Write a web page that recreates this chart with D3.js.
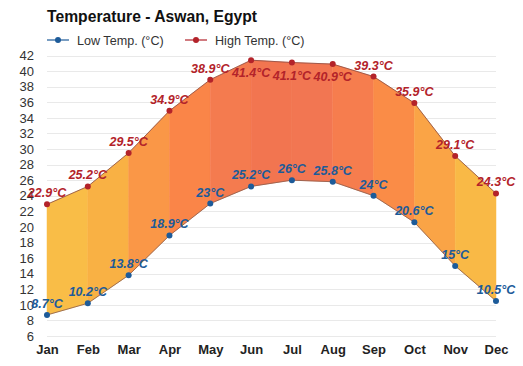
<!DOCTYPE html>
<html><head><meta charset="utf-8">
<script src="https://cdn.jsdelivr.net/npm/d3@7"></script>
<style>body{margin:0;background:#fff;}svg{display:block;font-family:"Liberation Sans",Arial,sans-serif;}</style>
</head><body><svg id="c" width="523" height="366"></svg>
<script>
const months = ["Jan","Feb","Mar","Apr","May","Jun","Jul","Aug","Sep","Oct","Nov","Dec"];
const lowTemps = [8.7,10.2,13.8,18.9,23,25.2,26,25.8,24,20.6,15,10.5];
const highTemps = [22.9,25.2,29.5,34.9,38.9,41.4,41.1,40.9,39.3,35.9,29.1,24.3];
const lowLabels = ["8.7°C","10.2°C","13.8°C","18.9°C","23°C","25.2°C","26°C","25.8°C","24°C","20.6°C","15°C","10.5°C"];
const highLabels = ["22.9°C","25.2°C","29.5°C","34.9°C","38.9°C","41.4°C","41.1°C","40.9°C","39.3°C","35.9°C","29.1°C","24.3°C"];
const yTicks = [6,8,10,12,14,16,18,20,22,24,26,28,30,32,34,36,38,40,42];
const stripColors = ["#f9bd47","#f9b144","#fa9747","#fa8548","#f47b4f","#f27550","#f27652","#f67d4e","#fa8c47","#faa446","#f9b946"];

const svg = d3.select("#c");
const x = d3.scalePoint().domain(months).range([47, 496]);
const y = d3.scaleLinear().domain([6,42]).range([336, 55.5]);

// grid
svg.append("g").selectAll("line").data(yTicks).join("line")
  .attr("x1",47).attr("x2",496)
  .attr("y1",d=>Math.round(y(d))+0.5).attr("y2",d=>Math.round(y(d))+0.5)
  .attr("stroke","#e9e9e9").attr("stroke-width",1);

// y axis labels
const yAxis = d3.axisLeft(y).tickValues(yTicks).tickSize(0).tickPadding(0);
const ya = svg.append("g").attr("transform","translate(34,0)").call(yAxis);
ya.select(".domain").remove();
ya.selectAll("text").attr("font-size",13).attr("fill","#333").attr("font-family","Liberation Sans, Arial, sans-serif");

// x axis labels
const xAxis = d3.axisBottom(x).tickSize(0).tickPadding(0);
const xa = svg.append("g").attr("transform","translate(0,345)").call(xAxis);
xa.select(".domain").remove();
xa.selectAll("text").attr("font-size",13).attr("font-weight","bold").attr("fill","#222").attr("font-family","Liberation Sans, Arial, sans-serif");

// strips
const data = months.map((m,i)=>({m, lo: lowTemps[i], hi: highTemps[i]}));
const area = d3.area().x(d=>x(d.m)).y0(d=>y(d.lo)).y1(d=>y(d.hi));
for (let i=0;i<months.length-1;i++){
  svg.append("path").datum(data.slice(i,i+2)).attr("d",area)
    .attr("fill",stripColors[i]).attr("stroke",stripColors[i]).attr("stroke-width",0.5);
}

// lines
const lineLo = d3.line().x(d=>x(d.m)).y(d=>y(d.lo));
const lineHi = d3.line().x(d=>x(d.m)).y(d=>y(d.hi));
svg.append("path").datum(data).attr("d",lineLo).attr("fill","none").attr("stroke","#8a5a48").attr("stroke-opacity",0.8).attr("stroke-width",1);
svg.append("path").datum(data).attr("d",lineHi).attr("fill","none").attr("stroke","#8a4a40").attr("stroke-opacity",0.8).attr("stroke-width",1);

// dots
svg.append("g").selectAll("circle").data(data).join("circle")
  .attr("cx",d=>x(d.m)).attr("cy",d=>y(d.lo)).attr("r",3).attr("fill","#1d5b99");
svg.append("g").selectAll("circle").data(data).join("circle")
  .attr("cx",d=>x(d.m)).attr("cy",d=>y(d.hi)).attr("r",3).attr("fill","#b3232a");

// labels (above the point, or below when it would leave the plot)
function labels(vals, txt, color){
  svg.append("g").selectAll("text").data(vals).join("text")
    .attr("x",(d,i)=>x(months[i])).attr("y",d=>{ const py=y(d); return (py-7-10 < 55) ? py+17 : py-7; })
    .attr("text-anchor","middle").attr("font-size",12.5).attr("font-weight","bold").attr("font-style","italic")
    .attr("fill",color).text((d,i)=>txt[i]);
}
labels(highTemps, highLabels, "#b3232a");
labels(lowTemps, lowLabels, "#1d5b99");

// title
svg.append("text").attr("x",47).attr("y",22).attr("font-size",15.7).attr("font-weight","bold").attr("fill","#111").text("Temperature - Aswan, Egypt");

// legend
const leg = [{t:"Low Temp. (°C)",c:"#1d5b99",x:47},{t:"High Temp. (°C)",c:"#b3232a",x:185}];
leg.forEach(l=>{
  svg.append("line").attr("x1",l.x).attr("x2",l.x+22).attr("y1",40).attr("y2",40).attr("stroke",l.c).attr("stroke-width",1.2);
  svg.append("circle").attr("cx",l.x+11).attr("cy",40).attr("r",3).attr("fill",l.c);
  svg.append("text").attr("x",l.x+30).attr("y",45).attr("font-size",12.6).attr("fill","#333").text(l.t);
});
</script></body></html>
